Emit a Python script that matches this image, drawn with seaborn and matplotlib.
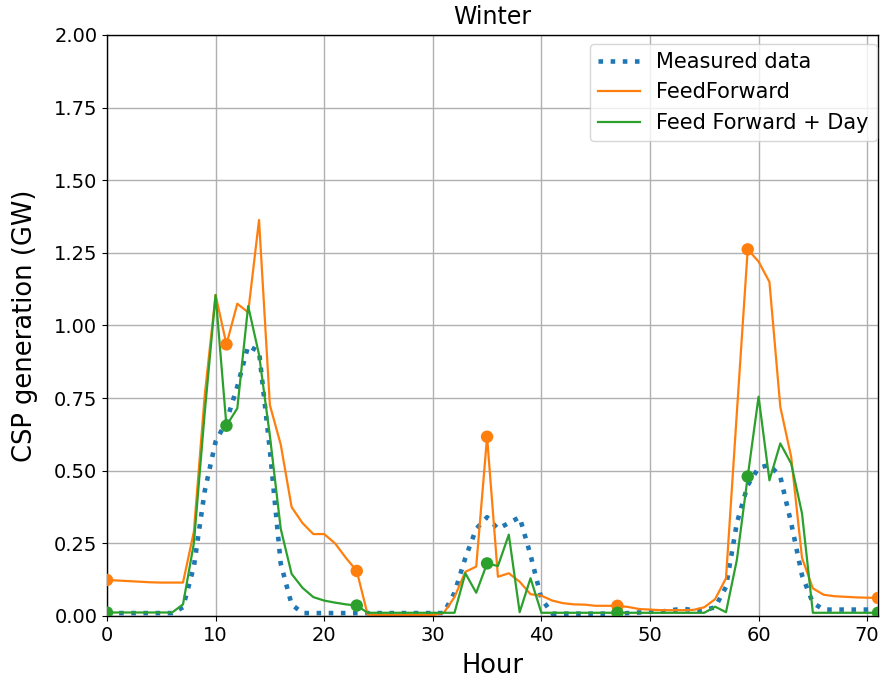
import numpy as np
import pandas as pd
import matplotlib
matplotlib.use("Agg")
import matplotlib.pyplot as plt
import seaborn as sns

hours = list(range(72))

measured = [0.01, 0.01, 0.01, 0.01, 0.01, 0.01, 0.01, 0.03, 0.17, 0.43,
            0.60, 0.67, 0.79, 0.93, 0.91, 0.57, 0.18, 0.04, 0.01, 0.01,
            0.01, 0.01, 0.01, 0.01, 0.01, 0.01, 0.01, 0.01, 0.01, 0.01,
            0.01, 0.01, 0.08, 0.20, 0.30, 0.34, 0.30, 0.32, 0.34, 0.21,
            0.06, 0.008, 0.008, 0.008, 0.008, 0.008, 0.008, 0.008, 0.01, 0.012,
            0.015, 0.015, 0.02, 0.025, 0.02, 0.02, 0.03, 0.10, 0.32, 0.45,
            0.51, 0.52, 0.48, 0.32, 0.14, 0.045, 0.022, 0.022, 0.022, 0.022,
            0.022, 0.022]

feedforward = [0.124, 0.122, 0.12, 0.118, 0.116, 0.115, 0.115, 0.115, 0.29, 0.76,
               1.105, 0.935, 1.075, 1.045, 1.363, 0.726, 0.59, 0.375, 0.32, 0.282,
               0.282, 0.25, 0.20, 0.155, 0.005, 0.003, 0.003, 0.003, 0.003, 0.003,
               0.003, 0.01, 0.065, 0.152, 0.17, 0.617, 0.135, 0.147, 0.118, 0.075,
               0.07, 0.053, 0.044, 0.04, 0.039, 0.035, 0.035, 0.035, 0.031, 0.024,
               0.022, 0.02, 0.02, 0.02, 0.021, 0.03, 0.058, 0.13, 0.70, 1.262,
               1.22, 1.15, 0.72, 0.548, 0.20, 0.095, 0.073, 0.068, 0.066, 0.064,
               0.063, 0.062]

ff_day = [0.012, 0.012, 0.012, 0.012, 0.012, 0.012, 0.012, 0.04, 0.25, 0.70,
          1.105, 0.655, 0.715, 1.067, 0.90, 0.62, 0.30, 0.145, 0.097, 0.065,
          0.053, 0.046, 0.04, 0.036, 0.011, 0.011, 0.011, 0.011, 0.011, 0.011,
          0.011, 0.011, 0.011, 0.147, 0.08, 0.181, 0.172, 0.28, 0.013, 0.13,
          0.011, 0.011, 0.011, 0.011, 0.011, 0.011, 0.011, 0.011, 0.011, 0.011,
          0.011, 0.011, 0.011, 0.011, 0.011, 0.011, 0.032, 0.013, 0.193, 0.48,
          0.755, 0.467, 0.594, 0.525, 0.353, 0.011, 0.011, 0.011, 0.011, 0.011,
          0.011, 0.011]

marker_hours = [0, 11, 23, 35, 47, 59, 71]
yticks = [0.0, 0.25, 0.5, 0.75, 1.0, 1.25, 1.5, 1.75, 2.0]
xticks = [0, 10, 20, 30, 40, 50, 60, 70]

df = pd.DataFrame({"Hour": hours, "measured": measured,
                   "ff": feedforward, "ffd": ff_day})
mk = df[df["Hour"].isin(marker_hours)]

fig = plt.figure(figsize=(8.82, 6.82), dpi=100)
ax = fig.add_axes([0.1213, 0.0968, 0.8742, 0.8519])

sns.lineplot(data=df, x="Hour", y="measured", ax=ax, color="#1f77b4",
             linestyle=":", linewidth=3.3, label="Measured data")
sns.lineplot(data=df, x="Hour", y="ff", ax=ax, color="#ff7f0e",
             linewidth=1.6, label="FeedForward")
sns.lineplot(data=df, x="Hour", y="ffd", ax=ax, color="#2ca02c",
             linewidth=1.6, label="Feed Forward + Day")
sns.scatterplot(data=mk, x="Hour", y="ff", ax=ax, color="#ff7f0e",
                s=80, edgecolor="none", legend=False, zorder=5)
sns.scatterplot(data=mk, x="Hour", y="ffd", ax=ax, color="#2ca02c",
                s=80, edgecolor="none", legend=False, zorder=5)

ax.set_xlim(0, 71)
ax.set_ylim(0, 2.0)
ax.set_xticks(xticks)
ax.set_yticks(yticks)
ax.set_yticklabels([f"{v:.2f}" for v in yticks])
ax.tick_params(labelsize=14)
ax.grid(True, color="#b0b0b0", linewidth=1.0)
ax.set_axisbelow(True)
for s in ax.spines.values():
    s.set_color("black")
    s.set_linewidth(1.0)

ax.set_xlabel("Hour", fontsize=18.5, labelpad=6)
ax.set_ylabel("CSP generation (GW)", fontsize=18.5, labelpad=11)
ax.set_title("Winter", fontsize=17, pad=8)
ax.legend(loc="upper right", fontsize=15, framealpha=0.8,
          bbox_to_anchor=(0.999, 0.985), borderaxespad=0.0)

fig.savefig("out.png", dpi=100)
